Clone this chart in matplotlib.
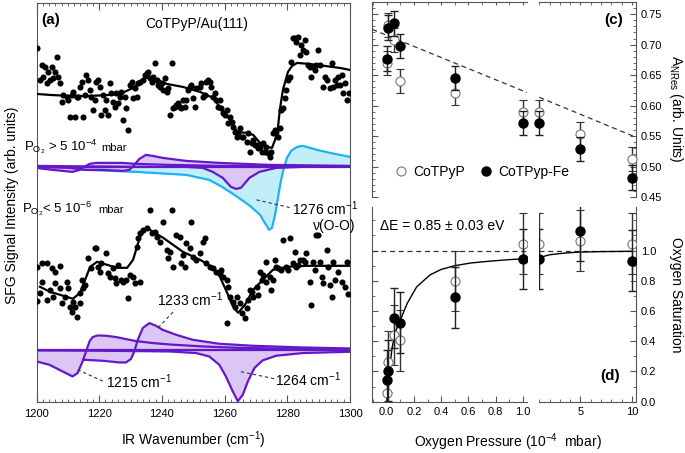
import numpy as np
import matplotlib
matplotlib.use("Agg")
import matplotlib.pyplot as plt
from matplotlib.ticker import MultipleLocator, FixedLocator
from matplotlib.lines import Line2D

plt.rcParams['font.family'] = ['Liberation Sans', 'DejaVu Sans']
plt.rcParams['mathtext.fontset'] = 'custom'
plt.rcParams['mathtext.rm'] = 'Liberation Sans'
plt.rcParams['mathtext.it'] = 'Liberation Sans:italic'
plt.rcParams['mathtext.bf'] = 'Liberation Sans:bold'

# ---------------- panel (a): SFG spectra (wavenumber, intensity in arb. units) ----------------
hi_pts = [(1200.2, 35.4), (1201.1, 32.2), (1201.6, 33.7), (1202.1, 32.5), (1202.7, 33.5), (1203.2, 31.9),
          (1203.7, 33.0), (1204.3, 32.2), (1204.8, 33.5), (1205.3, 32.4), (1205.8, 33.0), (1206.4, 34.5),
          (1206.9, 32.5), (1207.4, 31.9), (1208.0, 30.0), (1208.5, 30.7), (1209.6, 30.5), (1210.1, 30.2),
          (1210.6, 28.5), (1211.2, 30.7), (1211.7, 31.0), (1212.2, 28.5), (1212.8, 30.5), (1213.3, 30.5),
          (1213.8, 31.5), (1214.4, 32.0), (1214.9, 28.5), (1215.4, 30.7), (1215.9, 32.7), (1216.5, 32.2),
          (1217.0, 31.2), (1217.5, 30.5), (1218.1, 29.2), (1218.6, 30.2), (1219.1, 32.0), (1219.7, 32.2),
          (1220.2, 31.5), (1220.7, 28.7), (1221.3, 30.7), (1221.8, 29.2), (1222.3, 30.2), (1222.9, 28.7),
          (1223.4, 31.9), (1223.9, 30.9), (1224.4, 30.0), (1225.0, 29.5), (1225.5, 30.9), (1226.0, 29.9),
          (1226.6, 30.5), (1227.1, 31.0), (1227.6, 28.2), (1228.2, 30.5), (1228.7, 29.4), (1229.2, 27.2),
          (1229.8, 31.7), (1230.3, 32.0), (1230.8, 30.4), (1231.4, 31.4), (1231.9, 30.5), (1232.4, 31.9),
          (1233.0, 32.0), (1234.0, 32.2), (1234.5, 32.7), (1235.1, 32.9), (1235.6, 33.0), (1236.1, 32.4),
          (1236.7, 32.0), (1237.2, 32.5), (1237.7, 33.9), (1238.3, 32.2), (1238.8, 31.7), (1239.3, 31.5),
          (1239.9, 31.9), (1240.4, 31.2), (1240.9, 32.4), (1241.5, 31.0), (1242.0, 31.4), (1242.5, 28.7),
          (1243.1, 33.9), (1243.6, 29.4), (1244.1, 29.5), (1244.6, 29.7), (1245.2, 29.9), (1245.7, 29.5),
          (1246.2, 29.4), (1246.8, 30.2), (1247.3, 29.5), (1247.8, 30.2), (1248.4, 31.2), (1248.9, 31.5),
          (1249.4, 31.7), (1250.0, 30.4), (1250.5, 29.5), (1251.0, 31.4), (1252.1, 31.5), (1252.6, 31.9),
          (1253.2, 30.5), (1253.7, 30.7), (1254.2, 32.0), (1254.7, 32.2), (1255.3, 32.0), (1255.8, 31.5),
          (1256.3, 30.5), (1256.9, 30.9), (1257.4, 30.2), (1257.9, 29.5), (1258.5, 30.2), (1259.0, 29.4),
          (1259.5, 28.9), (1260.1, 28.7), (1260.6, 29.2), (1261.1, 27.9), (1261.7, 28.5), (1262.2, 28.0),
          (1262.7, 27.5), (1263.2, 27.0), (1263.8, 26.5), (1264.3, 26.9), (1264.8, 27.4), (1265.4, 26.5),
          (1265.9, 26.5), (1267.0, 26.0), (1267.5, 26.9), (1268.0, 25.0), (1268.6, 25.9), (1269.1, 26.2),
          (1269.6, 25.7), (1270.2, 25.7), (1270.7, 25.4), (1271.2, 25.5), (1271.8, 25.0), (1272.3, 25.9),
          (1272.8, 25.0), (1273.3, 25.5), (1273.9, 24.9), (1274.4, 24.5), (1274.9, 25.0), (1275.5, 26.9),
          (1276.0, 27.2), (1276.5, 27.0), (1277.1, 26.5), (1277.6, 27.4), (1278.1, 29.2), (1278.7, 29.4),
          (1279.2, 30.4), (1279.7, 31.2), (1280.3, 32.2), (1280.8, 32.5), (1281.3, 34.0), (1281.9, 36.4),
          (1282.4, 36.4), (1282.9, 36.0), (1283.4, 36.5), (1284.0, 34.7), (1284.5, 35.7), (1285.0, 35.2),
          (1285.6, 36.2), (1286.1, 35.0), (1286.6, 33.7), (1287.2, 33.5), (1287.7, 32.5), (1288.2, 33.5),
          (1288.8, 33.2), (1289.3, 33.7), (1289.8, 35.2), (1290.4, 33.7), (1291.4, 31.5), (1291.9, 32.5),
          (1292.5, 32.2), (1293.5, 31.4), (1294.1, 33.9), (1294.6, 31.5), (1295.1, 32.2), (1295.7, 31.7),
          (1296.2, 32.5), (1296.8, 31.7), (1297.4, 32.7), (1297.9, 30.9), (1298.4, 31.9), (1298.9, 30.2),
          (1299.8, 30.9)]

lo_pts = [(1200.0, 13.5), (1201.6, 13.9), (1203.2, 13.9), (1204.8, 13.4), (1205.8, 13.0), (1207.4, 13.6),
          (1201.6, 12.0), (1201.1, 10.9), (1200.0, 10.1), (1203.2, 10.2), (1204.3, 11.2), (1205.3, 10.5),
          (1205.8, 11.9), (1207.4, 11.4), (1208.0, 9.9), (1209.0, 10.5), (1209.6, 12.0), (1210.1, 11.4),
          (1210.6, 9.5), (1211.2, 9.0), (1212.2, 9.5), (1212.8, 8.5), (1211.7, 10.0), (1213.8, 9.9),
          (1213.8, 10.9), (1214.4, 12.2), (1214.9, 11.4), (1215.4, 11.7), (1216.5, 14.4), (1217.5, 13.4),
          (1218.6, 15.4), (1219.1, 15.4), (1219.7, 13.5), (1220.2, 13.0), (1220.7, 13.9), (1222.3, 14.9),
          (1222.9, 12.9), (1223.4, 12.5), (1224.4, 13.4), (1225.0, 12.4), (1225.5, 11.9), (1226.0, 13.7),
          (1227.1, 12.2), (1227.6, 12.0), (1228.7, 12.2), (1229.2, 10.4), (1229.8, 12.7), (1230.8, 12.5),
          (1231.4, 11.9), (1233.0, 12.0), (1231.9, 15.5), (1232.4, 16.4), (1233.0, 16.9), (1234.0, 17.2),
          (1235.1, 17.4), (1236.1, 19.2), (1236.7, 16.9), (1237.7, 17.0), (1238.3, 16.5), (1239.3, 16.0),
          (1240.4, 18.0), (1241.5, 15.2), (1242.0, 14.4), (1242.5, 15.0), (1243.1, 19.2), (1243.6, 13.5),
          (1244.6, 16.7), (1245.7, 16.5), (1246.2, 13.9), (1246.8, 14.7), (1247.3, 13.5), (1247.8, 15.9),
          (1248.9, 15.4), (1249.4, 18.0), (1250.0, 14.5), (1251.0, 14.2), (1252.1, 14.9), (1253.2, 16.0),
          (1253.7, 16.4), (1254.2, 13.9), (1255.3, 13.5), (1256.3, 13.4), (1257.4, 13.0), (1258.5, 12.9),
          (1259.0, 13.2), (1259.5, 12.5), (1260.6, 12.2), (1261.1, 11.5), (1260.6, 7.9), (1261.7, 10.5),
          (1262.7, 10.0), (1263.2, 9.5), (1263.8, 10.5), (1264.8, 9.9), (1265.4, 8.9), (1266.4, 8.4),
          (1267.0, 9.4), (1267.5, 10.2), (1268.0, 11.2), (1268.6, 11.0), (1269.1, 10.5), (1270.2, 11.5),
          (1270.7, 10.7), (1271.2, 13.0), (1271.8, 12.2), (1272.3, 12.7), (1273.3, 12.0), (1273.3, 14.0),
          (1274.4, 12.5), (1274.9, 11.2), (1275.5, 12.2), (1276.0, 14.2), (1276.5, 13.5), (1277.1, 13.4),
          (1278.1, 13.2), (1278.7, 16.2), (1279.7, 13.5), (1280.3, 13.2), (1280.8, 16.4), (1281.9, 13.9),
          (1282.4, 15.0), (1282.9, 13.5), (1283.4, 13.7), (1284.0, 14.2), (1285.0, 14.2), (1285.6, 14.0),
          (1286.1, 14.9), (1287.2, 12.0), (1287.7, 9.7), (1288.2, 14.0), (1288.8, 13.2), (1289.3, 16.7),
          (1289.8, 16.7), (1290.4, 14.0), (1290.9, 12.5), (1291.4, 11.9), (1292.5, 15.2), (1293.0, 13.5),
          (1293.5, 11.7), (1294.1, 10.5), (1294.6, 14.0), (1295.1, 12.2), (1296.2, 13.0), (1297.4, 12.0),
          (1298.4, 11.5), (1298.9, 14.0), (1299.5, 10.8)]

hi_fit = [(1200.0, 30.8), (1204.3, 30.7), (1210.7, 30.6), (1217.1, 30.6), (1223.4, 30.7), (1226.6, 30.8),
          (1230.8, 31.4), (1233.0, 32.0), (1235.6, 32.5), (1238.4, 32.2), (1241.6, 31.8), (1246.7, 31.5),
          (1252.2, 31.0), (1256.3, 30.4), (1258.5, 29.5), (1261.7, 28.2), (1264.0, 27.0), (1267.1, 26.9),
          (1269.1, 26.7), (1271.3, 25.9), (1273.5, 25.5), (1275.1, 25.4), (1276.1, 26.2), (1277.0, 27.4),
          (1277.6, 29.2), (1278.6, 31.2), (1280.2, 33.0), (1281.5, 33.6), (1283.1, 33.9), (1287.2, 33.8),
          (1292.0, 33.6), (1296.8, 33.4), (1300.0, 33.2)]

lo_fit = [(1201.1, 11.5), (1204.3, 11.0), (1207.5, 10.7), (1211.6, 10.3), (1213.9, 10.9), (1215.5, 12.2),
          (1217.1, 13.5), (1219.3, 14.0), (1222.5, 13.7), (1225.7, 13.4), (1228.9, 13.4), (1230.8, 14.2),
          (1233.0, 16.5), (1235.2, 17.4), (1237.2, 17.0), (1240.4, 16.4), (1246.7, 15.0), (1252.2, 14.2),
          (1256.3, 13.4), (1258.5, 12.5), (1260.8, 10.9), (1262.7, 9.5), (1264.3, 8.9), (1266.5, 9.7),
          (1269.1, 11.2), (1272.2, 12.2), (1275.4, 13.2), (1279.9, 13.5), (1286.3, 13.6), (1296.8, 13.6),
          (1300.0, 13.6)]

# fitted resonance components, O2 > 5e-4 mbar (baseline 23.5)
hi_base = 23.5
hi_c1215 = [(1200.0, 23.4), (1205.2, 23.2), (1208.3, 23.1), (1211.5, 23.0), (1213.7, 23.2), (1215.3, 23.5),
            (1216.9, 23.8), (1219.0, 23.9), (1223.2, 23.9), (1227.5, 23.9), (1231.7, 23.8), (1242.4, 23.7),
            (1258.3, 23.6), (1279.6, 23.6), (1300.0, 23.5)]
hi_c1233 = [(1200.0, 23.5), (1210.5, 23.4), (1215.8, 23.2), (1221.1, 23.2), (1227.5, 23.1), (1229.6, 23.2),
            (1231.2, 23.7), (1232.8, 24.3), (1234.9, 24.7), (1237.1, 24.6), (1240.2, 24.4), (1247.7, 24.1),
            (1258.3, 23.9), (1274.3, 23.7), (1300.0, 23.6)]
hi_c1264 = [(1200.0, 23.6), (1231.7, 23.5), (1247.7, 23.5), (1253.0, 23.4), (1256.2, 23.0), (1259.4, 22.4),
            (1262.0, 21.5), (1263.6, 21.3), (1265.2, 21.4), (1267.9, 22.4), (1271.1, 23.0), (1276.4, 23.4),
            (1284.9, 23.5), (1300.0, 23.5)]
hi_c1276 = [(1200.0, 23.4), (1231.7, 23.0), (1247.7, 22.7), (1255.1, 22.2), (1259.2, 21.5), (1263.6, 20.6),
            (1268.1, 19.6), (1271.3, 18.7), (1273.2, 17.7), (1274.2, 17.2), (1275.1, 17.4), (1276.1, 18.7),
            (1277.0, 20.4), (1278.0, 22.2), (1278.9, 23.4), (1279.9, 24.4), (1281.2, 25.1), (1283.1, 25.5),
            (1285.0, 25.6), (1289.5, 25.2), (1293.6, 24.9), (1300.0, 24.5)]

# fitted resonance components, O2 < 5e-6 mbar (baseline 5.2)
lo_base = 5.2
lo_c1215 = [(1200.0, 4.03), (1204.1, 3.7), (1208.3, 3.03), (1211.5, 2.53), (1213.1, 2.87), (1214.7, 4.03),
            (1215.8, 5.03), (1216.9, 6.03), (1217.9, 6.47), (1219.5, 6.63), (1222.2, 6.6), (1225.4, 6.47),
            (1228.5, 6.27), (1231.7, 6.07), (1237.1, 5.87), (1242.4, 5.73), (1253.0, 5.53), (1263.6, 5.4),
            (1279.6, 5.3), (1300.0, 5.23)]
lo_c1233 = [(1214.9, 4.2), (1221.1, 4.1), (1226.4, 3.93), (1228.5, 3.93), (1230.1, 4.27), (1231.2, 5.03),
            (1232.3, 6.2), (1233.9, 7.37), (1236.0, 7.87), (1238.1, 7.6), (1240.2, 7.2), (1244.5, 6.7),
            (1249.8, 6.2), (1258.3, 5.8), (1268.9, 5.6), (1284.9, 5.43), (1300.0, 5.33)]
lo_c1264 = [(1200.0, 5.13), (1221.1, 5.1), (1242.4, 5.03), (1250.9, 4.87), (1255.1, 4.53), (1258.3, 3.7),
            (1260.4, 2.53), (1262.6, 1.03), (1264.2, 0.05), (1265.8, 0.7), (1267.4, 2.03), (1269.5, 3.37),
            (1272.1, 4.13), (1276.4, 4.6), (1284.9, 4.87), (1300.0, 5.0)]

# ---------------- panels (c) and (d): pressure series ----------------
pressure = [0.0, 0.01, 0.05, 0.1, 0.5, 1.0, 5.0, 10.0]
anr_open = [0.670, 0.732, 0.708, 0.640, 0.621, 0.589, 0.553, 0.512]
anr_fill = [0.677, 0.728, 0.735, 0.698, 0.645, 0.571, 0.529, 0.482]
anr_err = [0.02, 0.02, 0.02, 0.02, 0.02, 0.02, 0.02, 0.02]
sat_open = [0.055, 0.265, 0.442, 0.405, 0.80, 1.046, 1.066, 1.046]
sat_fill = [0.144, 0.206, 0.555, 0.524, 0.69, 0.945, 1.128, 0.934]
sat_err = [0.2, 0.2, 0.2, 0.2, 0.2, 0.2, 0.2, 0.2]

# guide line in (c) and saturation fit in (d)
anr_guide_p = [-0.106, 1.03, 1.0, 10.4]
anr_guide_v = [0.725, 0.6215, 0.6136, 0.548]
fit_p = [0.0, 0.01, 0.025, 0.04, 0.06, 0.08, 0.1, 0.15, 0.22, 0.32, 0.4, 0.5, 0.62, 0.76, 0.9, 1.0,
         1.3, 1.7, 2.0, 3.0, 4.0, 5.0, 7.0, 10.0]
fit_s = [0.0, 0.11, 0.25, 0.36, 0.45, 0.50, 0.54, 0.65, 0.76, 0.84, 0.875, 0.90, 0.918, 0.93, 0.94, 0.945,
         0.958, 0.967, 0.972, 0.980, 0.986, 0.990, 0.993, 0.995]

purple = '#6418c8'
lilac = '#dbc6f6'
blue = '#1eb2ee'
cyan = '#c2eef9'
spine_c = '#555555'

fig = plt.figure(figsize=(6.85, 4.53), dpi=100)

# ---------------- left panel ----------------
ax = fig.add_axes([0.0533, 0.1132, 0.4577, 0.8802])
ax.set_xlim(1200, 1300)
ax.set_ylim(0, 39.9)

def comp(pts, base, line, fill, z):
    x, y = np.array(pts).T
    ax.fill_between(x, y, base, color=fill, lw=0, zorder=z)
    ax.plot(x, y, color=line, lw=1.6, zorder=z + 0.5)

comp(hi_c1276, hi_base, blue, cyan, 1)
comp(hi_c1215, hi_base, purple, lilac, 2)
comp(hi_c1233, hi_base, purple, lilac, 2)
comp(hi_c1264, hi_base, purple, lilac, 2)
ax.plot([1200, 1300], [hi_base, hi_base], color=purple, lw=1.6, zorder=3)

comp(lo_c1264, lo_base, purple, lilac, 2)
comp(lo_c1215, lo_base, purple, lilac, 2)
comp(lo_c1233, lo_base, purple, lilac, 2)
ax.plot([1200, 1300], [lo_base, lo_base], color=purple, lw=1.6, zorder=3)

for pts, fit in [(hi_pts, hi_fit), (lo_pts, lo_fit)]:
    x, y = np.array(pts).T
    ax.plot(x, y, 'o', color='black', ms=4.4, mew=0, zorder=5)
    fx, fy = np.array(fit).T
    ax.plot(fx, fy, color='black', lw=1.6, zorder=6)

# leader lines
lead = dict(color='#333333', lw=0.8, ls=(0, (3, 2.5)), zorder=7)
ax.plot([1270.2, 1281.2], [20.2, 19.4], **lead)
ax.plot([1238.8, 1244.2], [7.4, 9.2], **lead)
ax.plot([1213.1, 1221.6], [3.2, 2.0], **lead)
ax.plot([1265.2, 1275.9], [3.0, 2.3], **lead)

ax.text(1281.5, 19.3, '1276 cm$^{-1}$', fontsize=10, va='center', ha='left')
ax.text(1288.2, 17.6, 'ν(O-O)', fontsize=10, va='center', ha='left')
ax.text(1238.4, 10.2, '1233 cm$^{-1}$', fontsize=10, va='center', ha='left')
ax.text(1222.3, 2.0, '1215 cm$^{-1}$', fontsize=10, va='center', ha='left')
ax.text(1276.2, 2.2, '1264 cm$^{-1}$', fontsize=10, va='center', ha='left')

ax.text(1201.6, 38.2, '(a)', fontsize=11, fontweight='bold', va='center', ha='left')
ax.text(1251.0, 37.8, 'CoTPyP/Au(111)', fontsize=10, va='center', ha='center')
ax.text(1196.0, 25.5, r'$\mathregular{P_{O_2}}$ > 5 10$^{\mathregular{-4}}$', fontsize=9.5,
        va='center', ha='left', clip_on=False)
ax.text(1220.6, 25.4, 'mbar', fontsize=8, va='center', ha='left')
ax.text(1195.5, 19.3, r'$\mathregular{P_{O_2}}$< 5 10$^{\mathregular{-6}}$', fontsize=9.5,
        va='center', ha='left', clip_on=False)
ax.text(1219.6, 19.2, 'mbar', fontsize=8, va='center', ha='left')

ax.set_yticks([])
ax.xaxis.set_major_locator(MultipleLocator(20))
ax.xaxis.set_minor_locator(MultipleLocator(2))
ax.tick_params(axis='x', which='both', direction='in', top=True, bottom=True,
               labelsize=8, color=spine_c, pad=5)
ax.tick_params(axis='x', which='major', length=5)
ax.tick_params(axis='x', which='minor', length=2.5)
for s in ax.spines.values():
    s.set_color(spine_c)
    s.set_linewidth(0.8)
ax.set_xlabel('IR Wavenumber (cm$^{-1}$)', fontsize=10, labelpad=8)
ax.set_ylabel('SFG Signal Intensity (arb. units)', fontsize=10)
ax.yaxis.set_label_coords(-0.057, 0.493)

# ---------------- right panels (broken pressure axis) ----------------
W1, W2 = 0.2258, 0.1416
X1, X2 = 0.5435, 0.7869
axc1 = fig.add_axes([X1, 0.5651, W1, 0.4305])
axc2 = fig.add_axes([X2, 0.5651, W2, 0.4305])
axd1 = fig.add_axes([X1, 0.1132, W1, 0.4305])
axd2 = fig.add_axes([X2, 0.1132, W2, 0.4305])

p = np.array(pressure)
for a in (axc1, axd1):
    a.set_xlim(-0.106, 1.03)
    a.xaxis.set_major_locator(FixedLocator([0, 0.2, 0.4, 0.6, 0.8, 1.0]))
    a.xaxis.set_minor_locator(MultipleLocator(0.1))
for a in (axc2, axd2):
    a.set_xlim(0.97, 10.4)
    a.xaxis.set_major_locator(FixedLocator([5, 10]))
    a.xaxis.set_minor_locator(MultipleLocator(1))
for a in (axc1, axc2):
    a.set_ylim(0.45, 0.77)
    a.yaxis.set_major_locator(MultipleLocator(0.05))
    a.yaxis.set_minor_locator(MultipleLocator(0.01))
for a in (axd1, axd2):
    a.set_ylim(0, 1.29)
    a.yaxis.set_major_locator(FixedLocator([0, 0.2, 0.4, 0.6, 0.8, 1.0]))
    a.yaxis.set_minor_locator(FixedLocator([0.1, 0.3, 0.5, 0.7, 0.9, 1.1, 1.2]))

for a in (axc1, axc2, axd1, axd2):
    a.patch.set_visible(False)
    for s in a.spines.values():
        s.set_color(spine_c)
        s.set_linewidth(0.8)
    a.tick_params(which='both', direction='in', color=spine_c, labelsize=8)
    a.tick_params(which='major', length=4)
    a.tick_params(which='minor', length=2.5)

# spines and ticks per piece
axc1.spines['right'].set_visible(False)
axc1.spines['bottom'].set_visible(False)
axc1.tick_params(axis='x', which='both', top=True, bottom=False, labelbottom=False, length=2.5)
axc1.tick_params(axis='y', which='both', left=True, right=False, labelleft=False)

axc2.spines['left'].set_visible(False)
axc2.spines['bottom'].set_visible(False)
axc2.tick_params(axis='x', which='both', top=True, bottom=False, labelbottom=False, length=2.5)
axc2.tick_params(axis='y', which='both', left=False, right=True, labelleft=False, labelright=True)
axc2.yaxis.set_major_formatter(plt.FormatStrFormatter('%.2f'))

axd1.spines['right'].set_visible(False)
axd1.spines['top'].set_visible(False)
axd1.tick_params(axis='x', which='both', top=False, bottom=True)
axd1.tick_params(axis='y', which='both', left=True, right=False, labelleft=False)
axd1.xaxis.set_major_formatter(plt.FormatStrFormatter('%.1f'))

axd2.spines['left'].set_visible(False)
axd2.spines['top'].set_visible(False)
axd2.tick_params(axis='x', which='both', top=False, bottom=True)
axd2.tick_params(axis='y', which='both', left=False, right=True, labelleft=False, labelright=True)
axd2.yaxis.set_major_formatter(plt.FormatStrFormatter('%.1f'))

open_kw = dict(fmt='o', ms=6.5, mfc='white', mec='#777777', mew=0.8, ecolor='#333333',
               elinewidth=1.0, capsize=3, capthick=1.0, zorder=4)
fill_kw = dict(fmt='o', ms=6.5, color='black', ecolor='#222222',
               elinewidth=1.0, capsize=3, capthick=1.0, zorder=5)

for a, lo, hi in [(axc1, -1, 1.03), (axc2, 0.99, 11)]:
    m = (p > lo) & (p < hi)
    a.errorbar(p[m], np.array(anr_open)[m], yerr=np.array(anr_err)[m], clip_on=False, **open_kw)
    a.errorbar(p[m], np.array(anr_fill)[m], yerr=np.array(anr_err)[m], clip_on=False, **fill_kw)

for a, lo, hi in [(axd1, -1, 1.03), (axd2, 0.99, 11)]:
    m = (p > lo) & (p < hi)
    a.errorbar(p[m], np.array(sat_open)[m], yerr=np.array(sat_err)[m], **open_kw)
    a.errorbar(p[m], np.array(sat_fill)[m], yerr=np.array(sat_err)[m], **fill_kw)
    a.axhline(1.0, color='#333333', lw=0.9, ls=(0, (4, 3)), zorder=2)

fp, fs = np.array(fit_p), np.array(fit_s)
axd1.plot(fp[fp <= 1.0], fs[fp <= 1.0], color='black', lw=1.0, zorder=3)
axd2.plot(fp[fp >= 1.0], fs[fp >= 1.0], color='black', lw=1.0, zorder=3)

axc1.plot(anr_guide_p[:2], anr_guide_v[:2], color='#333333', lw=0.9, ls=(0, (4, 3)), zorder=2)
axc2.plot(anr_guide_p[2:], anr_guide_v[2:], color='#333333', lw=0.9, ls=(0, (4, 3)), zorder=2)

handles = [Line2D([], [], marker='o', ls='', ms=6.5, mfc='white', mec='#777777', mew=0.8),
           Line2D([], [], marker='o', ls='', ms=6.5, color='black')]
leg = axc1.legend(handles, ['CoTPyP', 'CoTPyp-Fe'], loc='center left', bbox_to_anchor=(0.14, 0.128),
                  ncol=2, frameon=False, fontsize=10, handlelength=1.0, handletextpad=0.4,
                  columnspacing=1.0, borderpad=0, borderaxespad=0)
leg.set_zorder(10)

axc2.text(0.773, 0.908, '(c)', transform=axc2.transAxes, fontsize=11, fontweight='bold',
          ha='center', va='center')
axd2.text(0.73, 0.132, '(d)', transform=axd2.transAxes, fontsize=11, fontweight='bold',
          ha='center', va='center')
axd1.text(0.05, 0.901, 'ΔE = 0.85 ± 0.03 eV', transform=axd1.transAxes, fontsize=10,
          ha='left', va='center')

fig.text(676 / 685, 1 - 109 / 453, r'A$_{\mathregular{NRes}}$ (arb. Units)', rotation=270,
         fontsize=10, ha='center', va='center')
fig.text(676 / 685, 1 - 295 / 453, 'Oxygen Saturation', rotation=270,
         fontsize=10, ha='center', va='center')
fig.text(508 / 685, 1 - 442 / 453, 'Oxygen Pressure (10$^{-4}$  mbar)', fontsize=10,
         ha='center', va='center')

fig.savefig('out.png', dpi=100)
